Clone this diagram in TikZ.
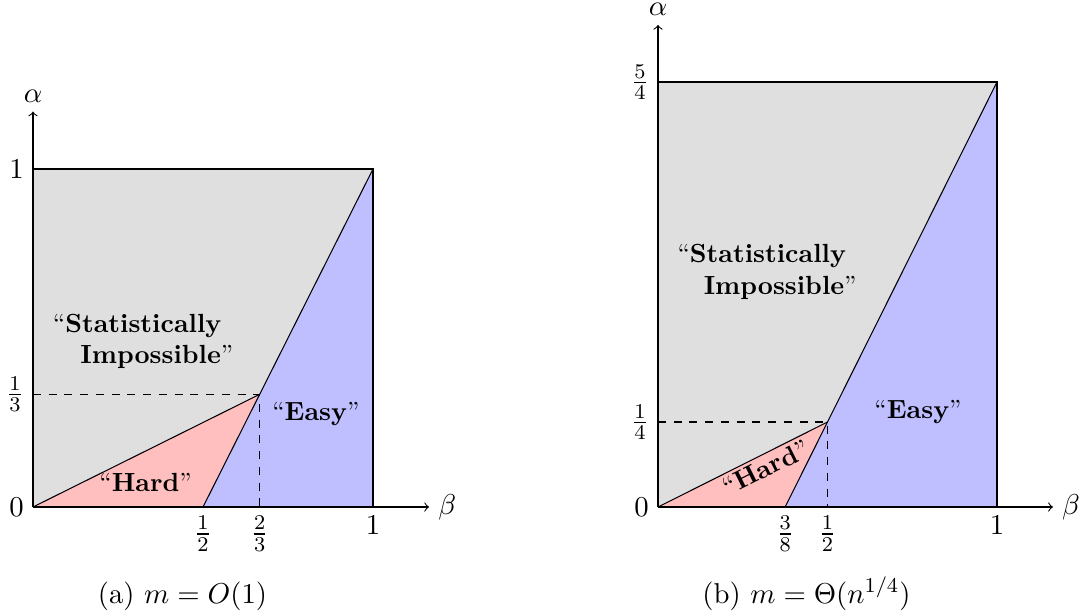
\documentclass[tikz,border=0pt]{standalone}
\usepackage{amsmath}
\begin{document}
\begin{tikzpicture}[x=0.381pt,y=-0.381pt,
  every node/.style={font=\fontsize{10.95pt}{13.6pt}\selectfont},
  bound/.style={black,line width=0.4pt},
  guide/.style={dashed,line width=0.4pt},
  axis/.style={->,line width=0.4pt},
  region/.style={font=\fontsize{10pt}{12pt}\selectfont,inner sep=0pt},
  caption/.style={anchor=base}]
\useasboundingbox (0,0) rectangle (1086,615);

% ---------- left plot ----------
\begin{scope}[shift={(33,507)},x=129.54pt,y=128.78pt]
  \coordinate (LO) at (0,0);
  \coordinate (LA) at (0,1);
  \coordinate (LB) at (1,1);
  \coordinate (LC) at (1,0);
  \coordinate (LK) at (2/3,1/3);
  \coordinate (LH) at (1/2,0);
  \coordinate (LD) at (2/3,0);
  \coordinate (LY) at (0,1/3);
  \fill[gray!25] (LO) -- (LA) -- (LB) -- (LK) -- cycle;
  \fill[red!25] (LO) -- (LH) -- (LK) -- cycle;
  \fill[blue!25] (LH) -- (LC) -- (LB) -- (LK) -- cycle;
  \draw[bound] (LA) -- (LB) -- (LC);
  \draw[bound] (LO) -- (LK) -- (LB);
  \draw[bound] (LH) -- (LK);
  \draw[guide] (LY) -- (LK) -- (LD);
  \draw[axis] (LO) -- (1.165,0) coordinate (LXE);
  \draw[axis] (LO) -- (0,1.17) coordinate (LYE);
  \node[right] (lbeta) at (LXE) {$\beta$};
  \node[above] (lalpha) at (LYE) {$\alpha$};
  \node[left] (l0) at (LO) {$0$};
  \node[left] (l1y) at (LA) {$1$};
  \node[left] (l13) at (LY) {$\frac{1}{3}$};
  \node[below] (l12) at (LH) {$\frac{1}{2}$};
  \node[below] (l23) at (LD) {$\frac{2}{3}$};
  \node[below] (l1x) at (LC) {$1$};
  \node[region,anchor=north west,align=left] (lstat) at (0.057,0.572)
    {``\textbf{Statistically}\\\hspace*{10.5pt}\textbf{Impossible}''};
  \node[region] (lhard) at (0.331,0.072) {``\textbf{Hard}''};
  \node[region] (leasy) at (0.832,0.275) {``\textbf{Easy}''};
\end{scope}

% ---------- right plot ----------
\begin{scope}[shift={(658,507)},x=129.16pt,y=129.54pt]
  \coordinate (RO) at (0,0);
  \coordinate (RA) at (0,5/4);
  \coordinate (RB) at (1,5/4);
  \coordinate (RC) at (1,0);
  \coordinate (RK) at (1/2,1/4);
  \coordinate (RH) at (3/8,0);
  \coordinate (RD) at (1/2,0);
  \coordinate (RY) at (0,1/4);
  \fill[gray!25] (RO) -- (RA) -- (RB) -- (RK) -- cycle;
  \fill[red!25] (RO) -- (RH) -- (RK) -- cycle;
  \fill[blue!25] (RH) -- (RC) -- (RB) -- (RK) -- cycle;
  \draw[bound] (RA) -- (RB) -- (RC);
  \draw[bound] (RO) -- (RK) -- (RB);
  \draw[bound] (RH) -- (RK);
  \draw[guide] (RY) -- (RK) -- (RD);
  \draw[axis] (RO) -- (1.165,0) coordinate (RXE);
  \draw[axis] (RO) -- (0,1.418) coordinate (RYE);
  \node[right] (rbeta) at (RXE) {$\beta$};
  \node[above] (ralpha) at (RYE) {$\alpha$};
  \node[left] (r0) at (RO) {$0$};
  \node[left] (r54) at (RA) {$\frac{5}{4}$};
  \node[left] (r14) at (RY) {$\frac{1}{4}$};
  \node[below] (r38) at (RH) {$\frac{3}{8}$};
  \node[below] (r12) at (RD) {$\frac{1}{2}$};
  \node[below] (r1x) at (RC) {$1$};
  \node[region,anchor=north west,align=left] (rstat) at (0.056,0.774)
    {``\textbf{Statistically}\\\hspace*{10pt}\textbf{Impossible}''};
  \node[region,rotate=26.57] (rhard) at (0.318,0.116) {``\textbf{Hard}''};
  \node[region] (reasy) at (0.767,0.279) {``\textbf{Easy}''};
\end{scope}

% ---------- captions ----------
\node[caption] (capa) at (182.5,603) {(a) $m = O(1)$};
\node[caption] (capb) at (806.5,603) {(b) $m = \Theta(n^{1/4})$};
\end{tikzpicture}
\end{document}
